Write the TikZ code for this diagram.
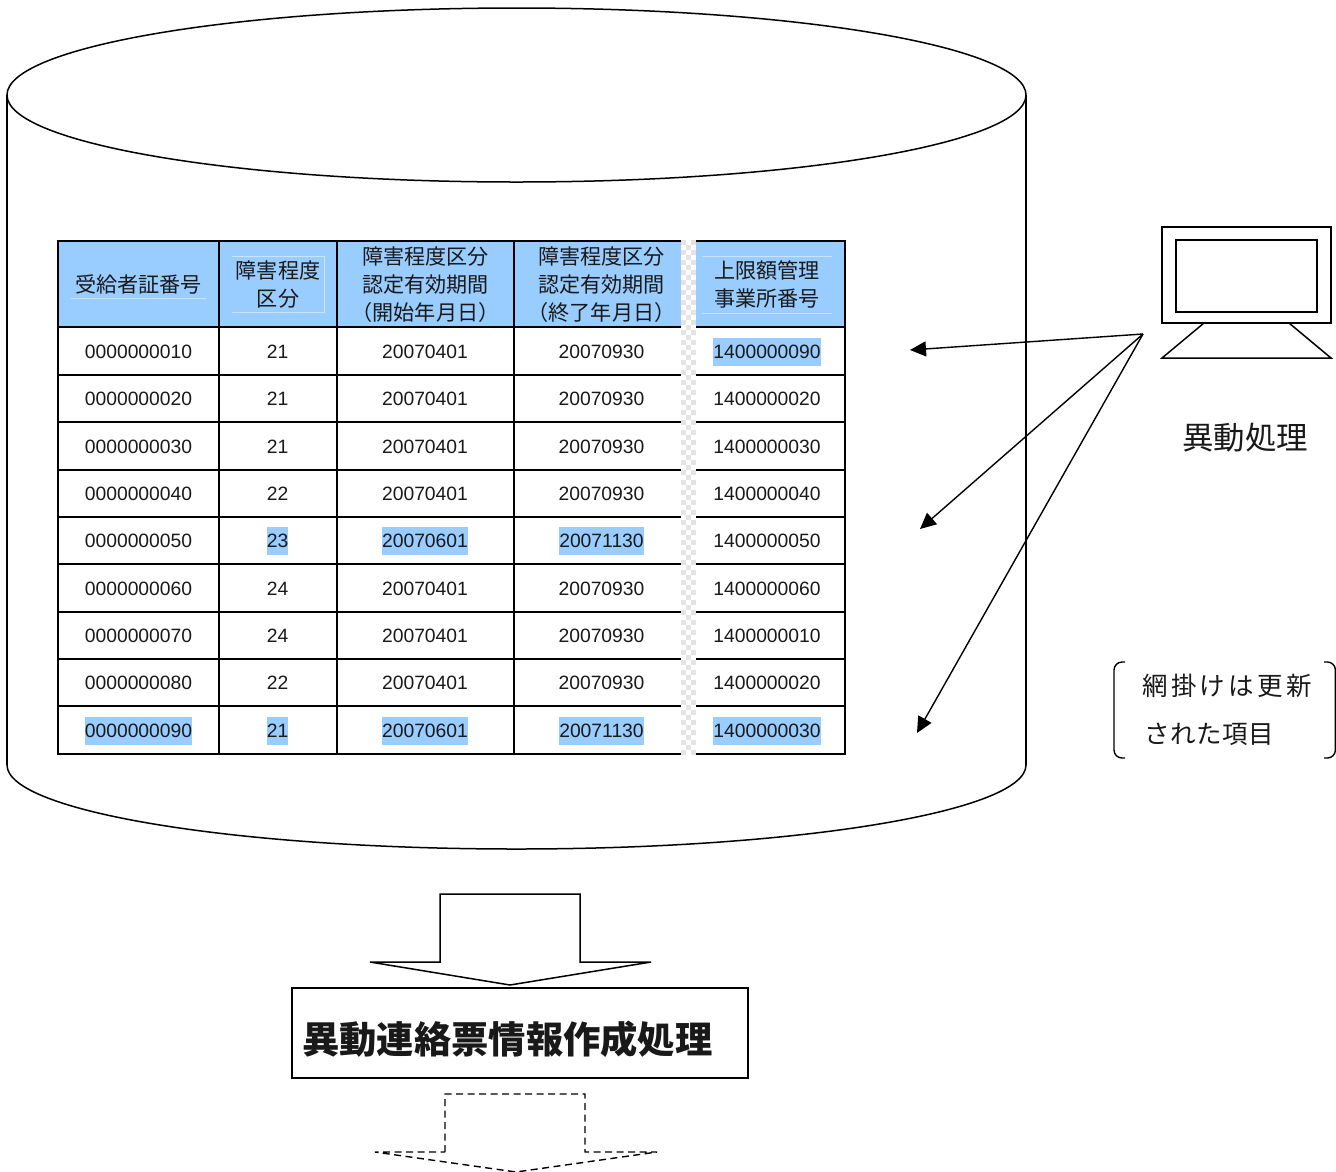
\documentclass[tikz,border=0pt]{standalone}
\usepackage{fontspec}
\usetikzlibrary{arrows.meta}
\setmainfont{Liberation Sans}
\newfontfamily\jp{Noto Sans CJK JP}
\newfontfamily\jpsp[LetterSpace=13]{Noto Sans CJK JP}
\newfontfamily\jpspb[LetterSpace=2]{Noto Sans CJK JP}
\newfontfamily\jphalt[RawFeature=+halt]{Noto Sans CJK JP}
\definecolor{hdrblue}{HTML}{99CCFF}
\definecolor{chk}{HTML}{E4E4E4}
\tikzset{
  ln/.style={draw=black,line width=1.5pt},
  grid/.style={draw=black,line width=2pt},
  head/.style={font=\jp\fontsize{21.1}{28}\selectfont,align=center,inner sep=0pt,text=black!90},
  cell/.style={font=\fontsize{19.3}{19.3}\selectfont,inner xsep=0pt,inner ysep=0pt,minimum height=28pt,text=black!90,fill=#1},
  faint/.style={draw=white!45!hdrblue,line width=.7pt},
  tip/.style={-{Triangle[length=16pt,width=15pt]},line width=1.4pt},
  blockarrow/.style={draw=black,line width=1.5pt,fill=white,line join=miter},
  lab/.style={inner sep=0pt,text=black!90}
}
\begin{document}
\begin{tikzpicture}[x=1pt,y=-1pt]
\useasboundingbox (0,0) rectangle (1336,1171);
% cylinder
\draw[ln] (7,95) -- (7,765);
\draw[ln] (1026,95) -- (1026,765);
\draw[ln] (516.5,95) ellipse [x radius=509.5pt,y radius=87pt];
\draw[ln] (7,765) arc[start angle=180,end angle=360,x radius=509.5pt,y radius=84pt];
% header band
\fill[hdrblue] (58,241) rectangle (845,327);
% faint lines in the header
\draw[faint] (71,298) -- (206,298);
\draw[faint] (232,256) -- (324,256) -- (324,312) -- (232,312);
\draw[faint] (702,256) -- (832,256);
\draw[faint] (702,313) -- (832,313);
% header text
\node[head] (h1) at (138.5,284.5) {受給者証番号};
\node[head] (h2) at (278,284.5) {障害程度\\区分};
\node[head] (h3) at (425.5,285) {障害程度区分\\認定有効期間\\{\jphalt （}開始年月日{\jphalt ）}};
\node[head] (h4) at (601.5,285) {障害程度区分\\認定有効期間\\{\jphalt （}終了年月日{\jphalt ）}};
\node[head] (h5) at (767,284.5) {上限額管理\\事業所番号};
% data rows
\foreach \y/\a/\ha/\b/\hb/\c/\hc/\d/\hd/\e/\he in {
 352/0000000010/none/21/none/20070401/none/20070930/none/1400000090/hdrblue,
 399/0000000020/none/21/none/20070401/none/20070930/none/1400000020/none,
 447/0000000030/none/21/none/20070401/none/20070930/none/1400000030/none,
 494/0000000040/none/22/none/20070401/none/20070930/none/1400000040/none,
 541/0000000050/none/23/hdrblue/20070601/hdrblue/20071130/hdrblue/1400000050/none,
 589/0000000060/none/24/none/20070401/none/20070930/none/1400000060/none,
 636/0000000070/none/24/none/20070401/none/20070930/none/1400000010/none,
 683/0000000080/none/22/none/20070401/none/20070930/none/1400000020/none,
 731/0000000090/hdrblue/21/hdrblue/20070601/hdrblue/20071130/hdrblue/1400000030/hdrblue}{
  \node[cell=\ha] (a\y) at (138.5,\y) {\a};
  \node[cell=\hb] (b\y) at (277.5,\y) {\b};
  \node[cell=\hc] (c\y) at (425,\y) {\c};
  \node[cell=\hd] (d\y) at (601.5,\y) {\d};
  \node[cell=\he] (e\y) at (767,\y) {\e};
}
% grid
\foreach \y in {241,327,375,422,470,517,564,612,659,706,754}
  \draw[grid] (57,\y) -- (846,\y);
\foreach \x in {58,219,337,514,845}
  \draw[grid] (\x,240) -- (\x,755);
% checkered strip
\fill[white] (681,240) rectangle (696,755);
\foreach \i in {0,...,102}{
  \pgfmathtruncatemacro{\yy}{240+5*\i}
  \pgfmathtruncatemacro{\odd}{mod(\i,2)}
  \ifnum\odd=0
    \fill[chk] (681,\yy) rectangle (686,\yy+5);
    \fill[chk] (691,\yy) rectangle (696,\yy+5);
  \else
    \fill[chk] (686,\yy) rectangle (691,\yy+5);
  \fi
}
% computer
\draw[ln] (1162,227) rectangle (1331,323);
\draw[ln] (1176,240) rectangle (1317,312);
\draw[ln] (1204,323) -- (1162,358) -- (1331,358) -- (1289,323);
\node[lab,font=\jp\fontsize{31.5}{31.5}\selectfont] (proc) at (1245,438) {異動処理};
% arrows
\coordinate (src) at (1143,334);
\coordinate (t1) at (910,350);
\coordinate (t2) at (920,529);
\coordinate (t3) at (917,733);
\draw[tip] (src) -- (t1);
\draw[tip] (src) -- (t2);
\draw[tip] (src) -- (t3);
% note
\node[lab,font=\jpsp\fontsize{25.5}{25.5}\selectfont,anchor=west] (n1) at (1142,686) {網掛けは更新};
\node[lab,font=\jpspb\fontsize{25.5}{25.5}\selectfont,anchor=west] (n2) at (1144,734) {された項目};
\draw[line width=1.4pt,rounded corners=8pt] (1125,662) -- (1114,662) -- (1114,758) -- (1125,758);
\draw[line width=1.4pt,rounded corners=8pt] (1324,662) -- (1335.4,662) -- (1335.4,758) -- (1324,758);
% block arrow
\draw[blockarrow] (440,894) -- (580,894) -- (580,962) -- (651,962) -- (510,985) -- (370,962) -- (440,962) -- cycle;
\node[draw=black,line width=1.5pt,minimum width=456pt,minimum height=90pt,inner sep=0pt] (box) at (520,1033) {};
\node[lab,font=\jp\bfseries\fontsize{37.3}{37.3}\selectfont,anchor=west] (title) at (302,1039) {異動連絡票情報作成処理};
% dashed arrow
\begin{scope}
\clip (0,0) rectangle (1336,1171);
\draw[line width=1.4pt,dashed,dash pattern=on 7pt off 4.5pt] (445,1152) -- (445,1094) -- (585,1094) -- (585,1152) -- (657,1152) -- (516,1172) -- (375,1152) -- cycle;
\end{scope}
\end{tikzpicture}
\end{document}
